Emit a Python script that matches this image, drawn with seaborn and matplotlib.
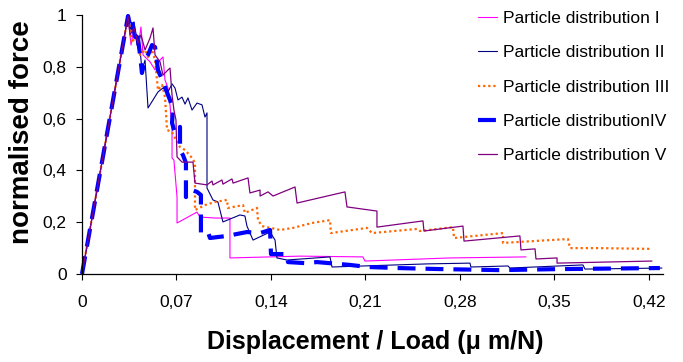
import matplotlib
matplotlib.use("Agg")
import matplotlib.pyplot as plt
import seaborn as sns
import pandas as pd

# Normalised force vs. displacement/load for five particle distributions
labels = [
    "Particle distribution I",
    "Particle distribution II",
    "Particle distribution III",
    "Particle distributionIV",
    "Particle distribution V",
]

x_I = [0, 0.0341, 0.0363, 0.0385, 0.0415, 0.0437, 0.0452, 0.0504, 0.0541, 0.0578, 0.0600,
       0.0615, 0.0637, 0.0652, 0.0667, 0.0667, 0.0681, 0.0704, 0.0704, 0.0852, 0.0874,
       0.0985, 0.1096, 0.1096, 0.1615, 0.2081, 0.2096, 0.2726, 0.3289]
y_I = [0, 0.996, 0.884, 0.950, 0.873, 0.954, 0.846, 0.819, 0.788, 0.826, 0.838,
       0.749, 0.718, 0.653, 0.556, 0.448, 0.440, 0.297, 0.197, 0.239, 0.220,
       0.216, 0.216, 0.062, 0.069, 0.066, 0.050, 0.062, 0.066]

x_II = [0, 0.0341, 0.0363, 0.0385, 0.0407, 0.0422, 0.0444, 0.0467, 0.0489, 0.0526, 0.0563,
        0.0600, 0.0637, 0.0667, 0.0689, 0.0711, 0.0741, 0.0763, 0.0785, 0.0815, 0.0852,
        0.0889, 0.0911, 0.0926, 0.0926, 0.0970, 0.1007, 0.1044, 0.1170, 0.1207, 0.1222,
        0.1267, 0.1393, 0.1430, 0.1444, 0.1519, 0.1837, 0.1852, 0.2556, 0.2874, 0.2881,
        0.3156, 0.3170, 0.3711, 0.3726, 0.4296]
y_II = [0, 0.996, 0.942, 0.973, 0.884, 0.911, 0.788, 0.826, 0.641, 0.672, 0.703,
        0.718, 0.703, 0.734, 0.718, 0.672, 0.683, 0.656, 0.680, 0.633, 0.660,
        0.653, 0.606, 0.622, 0.332, 0.286, 0.278, 0.201, 0.228, 0.224, 0.185,
        0.131, 0.162, 0.131, 0.062, 0.054, 0.066, 0.027, 0.039, 0.042, 0.027,
        0.031, 0.023, 0.035, 0.019, 0.023]

x_III = [0, 0.0341, 0.0370, 0.0400, 0.0430, 0.0467, 0.0489, 0.0519, 0.0541, 0.0563, 0.0593,
         0.0615, 0.0630, 0.0667, 0.0689, 0.0726, 0.0763, 0.0815, 0.0837, 0.0837, 0.0911,
         0.0985, 0.1074, 0.1081, 0.1193, 0.1207, 0.1296, 0.1304, 0.1333, 0.1467, 0.1563,
         0.1704, 0.1837, 0.1844, 0.2111, 0.2148, 0.2481, 0.2504, 0.2748, 0.2756, 0.3119,
         0.3119, 0.3244, 0.3600, 0.3615, 0.3815, 0.4207]
y_III = [0, 0.996, 0.892, 0.923, 0.846, 0.865, 0.838, 0.865, 0.826, 0.710, 0.730,
         0.683, 0.556, 0.548, 0.525, 0.490, 0.479, 0.448, 0.429, 0.247, 0.266,
         0.278, 0.286, 0.255, 0.266, 0.236, 0.255, 0.208, 0.185, 0.170, 0.178,
         0.197, 0.208, 0.158, 0.178, 0.158, 0.174, 0.166, 0.181, 0.139, 0.158,
         0.120, 0.124, 0.135, 0.100, 0.100, 0.097]

x_IV = [0, 0.0341, 0.0356, 0.0370, 0.0393, 0.0407, 0.0430, 0.0444, 0.0467, 0.0489, 0.0519,
        0.0541, 0.0563, 0.0593, 0.0615, 0.0637, 0.0652, 0.0674, 0.0667, 0.0689, 0.0726,
        0.0726, 0.0748, 0.0770, 0.0770, 0.0815, 0.0852, 0.0881, 0.0881, 0.0933, 0.0948,
        0.1074, 0.1222, 0.1319, 0.1393, 0.1400, 0.1519, 0.1526, 0.1652, 0.1741, 0.1985,
        0.2119, 0.2341, 0.2652, 0.3096, 0.3541, 0.4281]
y_IV = [0, 0.996, 0.961, 0.981, 0.915, 0.942, 0.846, 0.776, 0.826, 0.846, 0.884,
        0.876, 0.788, 0.749, 0.722, 0.691, 0.672, 0.633, 0.583, 0.544, 0.568,
        0.479, 0.459, 0.429, 0.297, 0.324, 0.317, 0.305, 0.158, 0.162, 0.139,
        0.147, 0.162, 0.158, 0.170, 0.077, 0.077, 0.046, 0.042, 0.046, 0.035,
        0.027, 0.023, 0.019, 0.015, 0.019, 0.023]

x_V = [0, 0.0341, 0.0356, 0.0385, 0.0415, 0.0437, 0.0467, 0.0504, 0.0526, 0.0541, 0.0578,
       0.0600, 0.0637, 0.0652, 0.0667, 0.0681, 0.0696, 0.0704, 0.0741, 0.0822, 0.0837,
       0.0926, 0.0963, 0.0970, 0.1037, 0.1044, 0.1111, 0.1119, 0.1230, 0.1244, 0.1319,
       0.1319, 0.1378, 0.1415, 0.1578, 0.1593, 0.1948, 0.1963, 0.2185, 0.2185, 0.2526,
       0.2533, 0.2822, 0.2830, 0.3244, 0.3252, 0.3356, 0.3363, 0.3519, 0.3519, 0.4222]
y_V = [0, 0.996, 0.923, 0.950, 0.892, 0.923, 0.865, 0.911, 0.950, 0.846, 0.819,
       0.768, 0.788, 0.795, 0.691, 0.633, 0.595, 0.452, 0.432, 0.432, 0.351,
       0.344, 0.359, 0.344, 0.363, 0.347, 0.367, 0.351, 0.371, 0.313, 0.324,
       0.301, 0.317, 0.301, 0.336, 0.274, 0.317, 0.259, 0.243, 0.181, 0.205,
       0.166, 0.185, 0.127, 0.147, 0.093, 0.097, 0.058, 0.062, 0.042, 0.050]

x_ticks = [0, 0.07, 0.14, 0.21, 0.28, 0.35, 0.42]
x_tick_labels = ["0", "0,07", "0,14", "0,21", "0,28", "0,35", "0,42"]
y_ticks = [0, 0.2, 0.4, 0.6, 0.8, 1.0]
y_tick_labels = ["0", "0,2", "0,4", "0,6", "0,8", "1"]

series = [(x_I, y_I), (x_II, y_II), (x_III, y_III), (x_IV, y_IV), (x_V, y_V)]
styles = [
    dict(color="#FF00FF", linewidth=0.8, linestyle="-"),
    dict(color="#000080", linewidth=0.8, linestyle="-"),
    dict(color="#FF6600", linewidth=1.6, linestyle=(0, (1, 1.3))),
    dict(color="#0000FF", linewidth=3.0, linestyle=(0, (4.3, 2.4))),
    dict(color="#800080", linewidth=0.9, linestyle="-"),
]

sns.set_style("ticks")
plt.rcParams["font.family"] = ["Liberation Sans", "DejaVu Sans"]
plt.rcParams["text.color"] = "black"
plt.rcParams["axes.labelcolor"] = "black"
plt.rcParams["xtick.color"] = "black"
plt.rcParams["ytick.color"] = "black"

fig = plt.figure(figsize=(6.83, 3.62), dpi=100)
ax = fig.add_axes([82 / 683, 88 / 362, 581 / 683, 259 / 362])

for name, (xs, ys), st in zip(labels, series, styles):
    df = pd.DataFrame({"x": xs, "y": ys})
    sns.lineplot(data=df, x="x", y="y", sort=False, estimator=None, ax=ax,
                 label=name, clip_on=False, **st)

ax.set_xlim(0, 0.4304)
ax.set_ylim(0, 1.0)
ax.set_xticks(x_ticks)
ax.set_xticklabels(x_tick_labels)
ax.set_yticks(y_ticks)
ax.set_yticklabels(y_tick_labels)
ax.tick_params(axis="both", direction="out", length=4, width=0.8, colors="black",
               labelcolor="black", labelsize=12.5)
ax.tick_params(axis="x", pad=11)
ax.tick_params(axis="y", pad=7)
for side in ("top", "right"):
    ax.spines[side].set_visible(False)
for side in ("left", "bottom"):
    ax.spines[side].set_color("black")
    ax.spines[side].set_linewidth(0.9)

ax.set_xlabel("Displacement / Load (\u03bc m/N)", fontsize=18, fontweight="bold",
              va="center", color="black")
ax.xaxis.set_label_coords(0.505, -0.262)
ax.set_ylabel("normalised force", fontsize=20, fontweight="bold", va="center",
              color="black")
ax.yaxis.set_label_coords(-0.103, 0.546)

leg = ax.legend(loc="upper left", bbox_to_anchor=(478 / 683, 1 - 11 / 362),
                bbox_transform=fig.transFigure, frameon=False, fontsize=12.5,
                handlelength=1.1, handletextpad=0.35, labelspacing=1.1,
                borderpad=0, borderaxespad=0)
for t in leg.get_texts():
    t.set_color("black")

fig.savefig("out.png", dpi=100, facecolor="white")
